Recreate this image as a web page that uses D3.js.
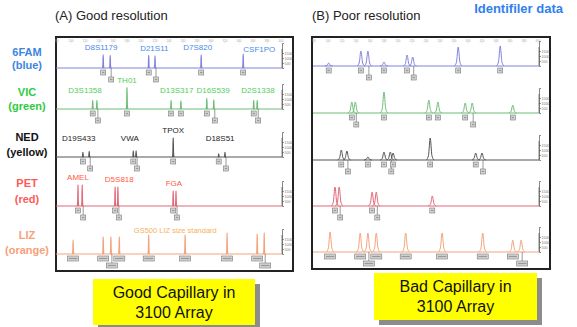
<!DOCTYPE html>
<html>
<head>
<meta charset="utf-8">
<script src="https://cdn.jsdelivr.net/npm/d3@7"></script>
<style>
  body { margin: 0; background: #fff; }
  svg { display: block; font-family: "Liberation Sans", Arial, sans-serif; }
</style>
</head>
<body>
<svg id="chart" width="577" height="327"></svg>
<script>
// dye channels, top to bottom
const channels = ['6FAM', 'VIC', 'NED', 'PET', 'LIZ'];
const channelNames = ['(blue)', '(green)', '(yellow)', '(red)', '(orange)'];

// size ruler (bp) and intensity ticks (RFU)
const sizeTicks = [80, 100, 120, 140, 160, 180, 200, 220, 240, 260, 280, 300, 320, 340, 360, 380, 400];
const rfuTicks = [500, 1000, 1500];

// peaks [size bp, height RFU] - good capillary
const goodBlue = [[146, 1300], [156, 1250], [211, 1250], [220, 1200], [286, 1300], [346, 1400]];
const goodGreen = [[131, 850], [137, 850], [180, 2150], [243, 850], [257, 800], [294, 1050], [304, 900], [361, 850], [366, 850]];
const goodYellow = [[117, 450], [126, 550], [189, 600], [193, 600], [246, 1900], [311, 300], [320, 450]];
const goodRed = [[110, 2100], [116, 2100], [163, 1900], [167, 1900], [246, 1500], [250, 1500]];
const goodOrange = [[103, 1400], [146, 1700], [157, 1700], [169, 1700], [211, 1900], [263, 1900], [323, 2100], [366, 2000], [376, 2100]];

// peaks - bad capillary
const badBlue = [[101, 300], [147, 1500], [157, 1500], [180, 400], [213, 1100], [221, 900], [286, 1900], [346, 2000]];
const badGreen = [[134, 1100], [139, 1100], [180, 2100], [244, 1300], [257, 1100], [296, 1000], [306, 1000], [364, 800]];
const badYellow = [[119, 1000], [127, 900], [157, 300], [180, 800], [189, 800], [193, 700], [246, 2200], [311, 700], [320, 700]];
const badRed = [[110, 1900], [116, 1900], [163, 1400], [169, 1400], [249, 1000]];
const badOrange = [[103, 2000], [146, 1900], [157, 1900], [169, 1900], [211, 1900], [263, 1900], [321, 1900], [364, 1200], [376, 1200]];

// locus labels [name, bp] per channel (good panel)
const lociBlue = [['D8S1179', 143], ['D21S11', 219], ['D7S820', 281], ['CSF1PO', 369]];
const lociGreen = [['D3S1358', 120], ['TH01', 180], ['D13S317', 251], ['D16S539', 303], ['D2S1338', 367]];
const lociYellow = [['D19S433', 111], ['VWA', 184], ['TPOX', 246], ['D18S51', 313]];
const lociRed = [['AMEL', 110], ['D5S818', 169], ['FGA', 247]];
const lociOrange = [['GS500 LIZ size standard', 249]];

const svg = d3.select('#chart');

const traceColors = ['#8282dc', '#6cbd76', '#555555', '#e36878', '#f3a37c'];
const locusColors = ['#4a8be6', '#4fce5a', '#222222', '#ff5a45', '#f5b35a'];
const rowLabelColors = ['#3b86e0', '#2ecc40', '#111111', '#ff5a5a', '#f7a07a'];

const panels = [
  { x0: 57, x1: 281, frame: [56, 37, 293, 271], base: [68, 109, 157, 206, 254], halfW: 0.9,
    peaks: [goodBlue, goodGreen, goodYellow, goodRed, goodOrange],
    loci: [lociBlue, lociGreen, lociYellow, lociRed, lociOrange] },
  { x0: 314, x1: 538, frame: [312, 37, 550, 269], base: [66, 113, 160, 206, 252], halfW: 5.5,
    peaks: [badBlue, badGreen, badYellow, badRed, badOrange], loci: null }
];

const y = d3.scaleLinear().domain([0, 2500]).range([0, -25]);

// titles
svg.append('text').attr('x', 55).attr('y', 20).attr('font-size', 13).attr('fill', '#222').text('(A) Good resolution');
svg.append('text').attr('x', 312).attr('y', 20).attr('font-size', 13).attr('fill', '#222').text('(B) Poor resolution');
svg.append('text').attr('x', 563).attr('y', 13).attr('font-size', 13).attr('font-weight', 'bold')
  .attr('text-anchor', 'end').attr('fill', '#2f80f0').text('Identifiler data');

// dye row labels on the left
const rowLabelY = [[52, 65], [92, 106], [137, 152], [183, 199], [235, 250]];
channels.forEach((c, i) => {
  const t = svg.append('text').attr('text-anchor', 'middle').attr('font-weight', 'bold')
    .attr('font-size', 11).attr('fill', rowLabelColors[i]);
  t.append('tspan').attr('x', 27).attr('y', rowLabelY[i][0] + 4).text(c);
  t.append('tspan').attr('x', 27).attr('y', rowLabelY[i][1] + 4).text(channelNames[i]);
});

panels.forEach(p => {
  const x = d3.scaleLinear().domain([80, 400]).range([p.x0, p.x1]);
  const [fx0, fy0, fx1, fy1] = p.frame;
  const axisX = p.x1 + 1;

  svg.append('rect').attr('x', fx0).attr('y', fy0).attr('width', fx1 - fx0).attr('height', fy1 - fy0)
    .attr('fill', '#fff').attr('stroke', '#222').attr('stroke-width', 2);

  // size ruler along the top
  const ruler = svg.append('g').attr('transform', `translate(0,${fy0 + 4})`);
  ruler.selectAll('text').data(sizeTicks).enter().append('text')
    .attr('x', d => x(d)).attr('y', 1).attr('text-anchor', 'middle')
    .attr('font-size', 3).attr('fill', '#aaa').text(d => d);
  ruler.selectAll('.tk').data(sizeTicks).enter().append('line')
    .attr('x1', d => x(d)).attr('x2', d => x(d)).attr('y1', 1.5).attr('y2', 2.5)
    .attr('stroke', '#bbb').attr('stroke-width', 0.5);

  p.base.forEach((b, i) => {
    const g = svg.append('g').attr('transform', `translate(0,${b})`);
    const col = traceColors[i];
    const isLiz = i === 4;

    // right-hand intensity axis
    const ax = g.append('g').attr('transform', `translate(${axisX},0)`)
      .call(d3.axisRight(y).tickValues(rfuTicks).tickSize(2).tickFormat(d => d));
    ax.select('.domain').attr('stroke', '#555').attr('stroke-width', 0.7);
    ax.selectAll('.tick line').attr('stroke', '#555').attr('stroke-width', 0.6);
    ax.selectAll('.tick text').attr('font-size', 3.5).attr('fill', '#777').attr('x', 2.5);
    g.append('line').attr('x1', axisX).attr('x2', axisX).attr('y1', y(0)).attr('y2', y(1900))
      .attr('stroke', '#555').attr('stroke-width', 0.7);

    // baseline
    g.append('line').attr('x1', p.x0 - 1).attr('x2', axisX).attr('y1', 0).attr('y2', 0)
      .attr('stroke', col).attr('stroke-width', 1);

    const peaks = p.peaks[i];
    const w = p.halfW;
    const line = d3.line().x(d => x(d[0])).y(d => y(d[1])).curve(d3.curveMonotoneX);

    // allele call boxes under peaks, staggered when peaks are close
    let prev = null, prevLvl = 1;
    peaks.forEach(pk => {
      const lvl = (prev !== null && pk[0] - prev < 13 && prevLvl === 0) ? 1 : 0;
      prev = pk[0]; prevLvl = lvl;
      const bw = isLiz ? 11 : 5;
      const px = x(pk[0]) + (lvl ? 1 : 0);
      const top = lvl ? 9 : 2;
      if (lvl) {
        g.append('line').attr('x1', px).attr('x2', px).attr('y1', 0).attr('y2', top)
          .attr('stroke', '#555').attr('stroke-width', 0.6);
      }
      g.append('rect').attr('x', px - bw / 2).attr('y', top).attr('width', bw).attr('height', 5)
        .attr('fill', '#d9d9d9').attr('stroke', '#777').attr('stroke-width', 0.6);
      g.append('rect').attr('x', px - bw / 2 + 1.2).attr('y', top + 1.8).attr('width', bw - 2.4).attr('height', 1.4)
        .attr('fill', '#999');
    });

    // peaks
    g.selectAll('.peak').data(peaks).enter().append('path')
      .attr('d', d => line([[d[0] - w, 0], [d[0] - w * 0.45, d[1] * 0.2], [d[0], d[1]],
                           [d[0] + w * 0.45, d[1] * 0.2], [d[0] + w, 0]]))
      .attr('fill', 'none').attr('stroke', col).attr('stroke-width', p.halfW < 1 ? 1.3 : 1);

    // locus names
    if (p.loci) {
      p.loci[i].forEach(([name, bp]) => {
        const near = peaks.filter(d => Math.abs(d[0] - bp) < 16);
        const top = near.length ? -d3.max(near, d => -y(d[1])) : 0;
        const ly = isLiz ? -21 : Math.min(-16, top - 5);
        g.append('text').attr('x', x(bp)).attr('y', ly).attr('text-anchor', 'middle')
          .attr('font-size', isLiz ? 7.5 : 8).attr('fill', locusColors[i]).text(name);
      });
    }
  });
});

// yellow callout boxes
const callouts = [
  { x: 93, y: 279, w: 162, h: 46, lines: ['Good Capillary in', '3100 Array'] },
  { x: 374, y: 273, w: 163, h: 47, lines: ['Bad Capillary in', '3100 Array'] }
];
callouts.forEach(c => {
  svg.append('rect').attr('x', c.x + 5).attr('y', c.y + 5).attr('width', c.w).attr('height', c.h).attr('fill', '#8c8c8c');
  svg.append('rect').attr('x', c.x).attr('y', c.y).attr('width', c.w).attr('height', c.h).attr('fill', '#ffff00');
  c.lines.forEach((t, k) => {
    svg.append('text').attr('x', c.x + c.w / 2).attr('y', c.y + 19 + k * 20).attr('text-anchor', 'middle')
      .attr('font-size', 16).attr('fill', '#111').text(t);
  });
});
</script>
</body>
</html>
